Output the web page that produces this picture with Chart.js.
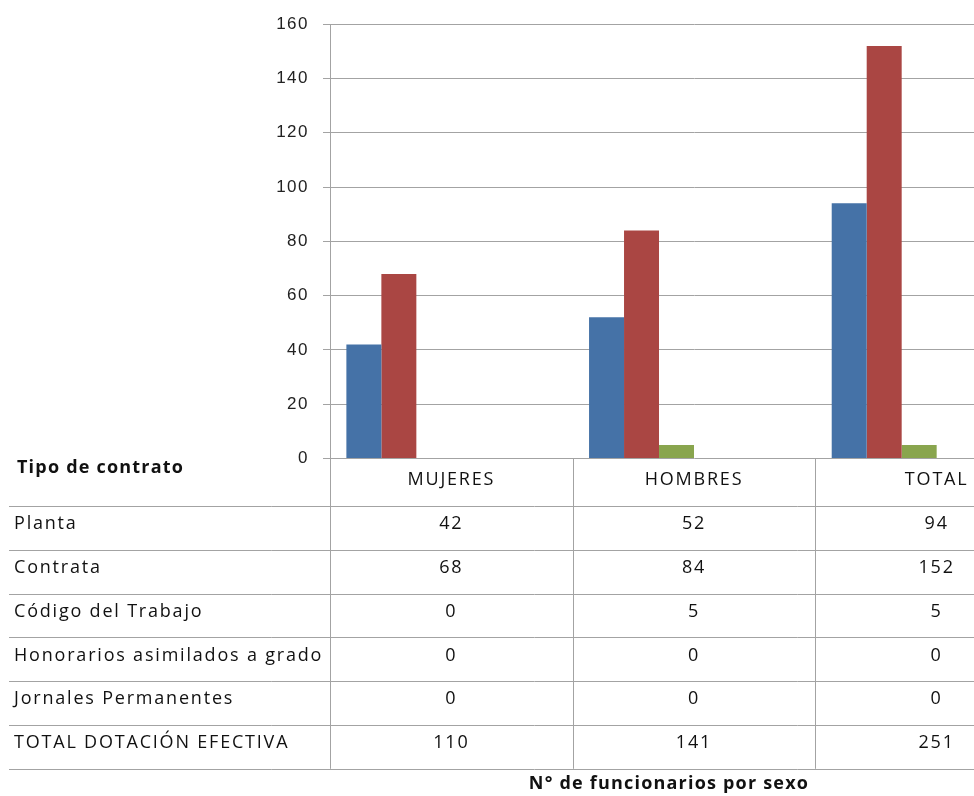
<!DOCTYPE html>
<html>
<head>
<meta charset="utf-8">
<script src="https://cdn.jsdelivr.net/npm/chart.js@4.4.0/dist/chart.umd.min.js"></script>
<style>
    html, body { margin: 0; padding: 0; background: #fff; overflow: hidden; }
    #wrap { width: 1060px; height: 796px; }
</style>
</head>
<body>
<div id="wrap"><canvas id="sexChart"></canvas></div>
<script>
const categories = ['MUJERES', 'HOMBRES', 'TOTAL'];
const seriesNames = ['Planta', 'Contrata', 'Código del Trabajo', 'Honorarios asimilados a grado', 'Jornales Permanentes', 'TOTAL DOTACIÓN EFECTIVA'];
const planta = [42, 52, 94];
const contrata = [68, 84, 152];
const codigoTrabajo = [0, 5, 5];
const honorarios = [0, 0, 0];
const jornales = [0, 0, 0];
const totalDotacion = [110, 141, 251];
const seriesValues = [planta, contrata, codigoTrabajo, honorarios, jornales, totalDotacion];
// last series has no fill in the chart, only in the table
const seriesColors = ['#4572a7', '#aa4643', '#89a54e', '#71588f', '#4198af', 'rgba(0,0,0,0)'];
const yMin = 0, yMax = 160, yStep = 20;
const tableHeader = 'Tipo de contrato';
const chartTitle = 'N° de funcionarios por sexo';

const lineColor = '#a3a3a3';

// spaced-out lettering like the original export
const spacingPlugin = {
    id: 'spacing',
    beforeDraw(chart) {
        chart.ctx.letterSpacing = '1.5px';
    }
};

// Data table under the plot, aligned on the category scale
const tablePlugin = {
    id: 'dataTable',
    afterDraw(chart) {
        const ctx = chart.ctx;
        const area = chart.chartArea;
        const x = chart.scales.x;
        const catW = (area.right - area.left) / categories.length;
        const firstRow = area.bottom + 47.5;
        const rowH = 43.8;
        const lastLine = firstRow + rowH * seriesNames.length;

        ctx.save();
        ctx.strokeStyle = lineColor;
        ctx.lineWidth = 1;
        ctx.beginPath();
        for (let r = 0; r <= seriesNames.length; r++) {
            const y = Math.round(firstRow + r * rowH) + 0.5;
            ctx.moveTo(9, y);
            ctx.lineTo(chart.width, y);
        }
        ctx.moveTo(area.left + 0.5, area.bottom);
        ctx.lineTo(area.left + 0.5, lastLine);
        for (let i = 1; i <= categories.length; i++) {
            const lx = Math.round(area.left + i * catW) + 0.5;
            ctx.moveTo(lx, area.bottom);
            ctx.lineTo(lx, lastLine);
        }
        ctx.stroke();

        ctx.fillStyle = '#111';
        ctx.textBaseline = 'middle';

        ctx.letterSpacing = '1.2px';
        ctx.font = 'bold 18px "Open Sans"';
        ctx.textAlign = 'left';
        ctx.fillText(tableHeader, 17, area.bottom + 9);

        ctx.letterSpacing = '1.8px';
        ctx.font = '18px "Open Sans"';
        ctx.textAlign = 'center';
        categories.forEach((c, i) => {
            ctx.fillText(c, x.getPixelForValue(i), area.bottom + 21);
        });

        seriesNames.forEach((name, r) => {
            const y = firstRow + r * rowH + 18;
            ctx.textAlign = 'left';
            ctx.fillText(name, 14, y);
            ctx.textAlign = 'center';
            seriesValues[r].forEach((v, i) => {
                ctx.fillText(String(v), x.getPixelForValue(i), y);
            });
        });

        ctx.letterSpacing = '1.2px';
        ctx.font = 'bold 18px "Open Sans"';
        ctx.textAlign = 'center';
        ctx.fillText(chartTitle, 669, 784);
        ctx.restore();
    }
};

const ctx = document.getElementById('sexChart');
new Chart(ctx, {
    type: 'bar',
    data: {
        labels: categories,
        datasets: seriesNames.map((name, i) => ({
            label: name,
            data: seriesValues[i],
            backgroundColor: seriesColors[i],
            borderWidth: 0,
            barPercentage: 1,
            categoryPercentage: 0.865
        }))
    },
    options: {
        responsive: true,
        maintainAspectRatio: false,
        animation: false,
        devicePixelRatio: 1,
        layout: {
            padding: { top: 23, right: 2, bottom: 337.5, left: 0 }
        },
        scales: {
            x: {
                display: false
            },
            y: {
                min: yMin,
                max: yMax,
                afterFit: function(scale) {
                    scale.width = 330;
                },
                ticks: {
                    stepSize: yStep,
                    padding: 14,
                    color: '#222',
                    font: { family: '"Liberation Sans", Arial', size: 17 }
                },
                grid: {
                    color: lineColor,
                    tickLength: 7
                },
                border: {
                    display: true,
                    color: lineColor
                }
            }
        },
        plugins: {
            legend: { display: false },
            tooltip: { enabled: false }
        }
    },
    plugins: [spacingPlugin, tablePlugin]
});
</script>
</body>
</html>
